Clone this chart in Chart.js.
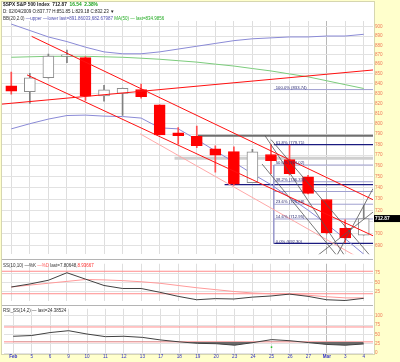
<!DOCTYPE html>
<html>
<head>
<meta charset="utf-8">
<title>$SPX S&P 500 Index</title>
<script src="https://cdn.jsdelivr.net/npm/chart.js@4.4.1/dist/chart.umd.min.js"></script>
<style>
  body { margin:0; width:400px; height:362px; background:#ffffcc; position:relative; overflow:hidden; font-family:"Liberation Sans", Arial, sans-serif; }
  #frame { position:absolute; left:1px; top:1px; width:372px; height:352px; background:#fff; border:1px solid #d6d6b0; }
  canvas { position:absolute; left:0; }
  .sep { position:absolute; left:2px; width:371px; height:0; border-top:1px solid #b4b4b4; }
  .t { position:absolute; white-space:nowrap; font-size:4.5px; line-height:5px; color:#333; }
</style>
</head>
<body>
<div id="frame"></div>
<canvas id="price" width="400" height="259" style="top:0"></canvas>
<canvas id="ss" width="400" height="47" style="top:259px"></canvas>
<canvas id="rsi" width="400" height="58" style="top:304px"></canvas>
<div class="sep" style="top:259px"></div>
<div class="sep" style="top:305px"></div>

<div class="t" style="left:3px;top:2px;font-size:4.8px;font-weight:bold;color:#222">$SPX S&amp;P 500 Index&nbsp;&nbsp;712.87&nbsp;&nbsp;<span style="color:#18a018">16.54&nbsp;&nbsp;2.38%</span></div>
<div class="t" style="left:3px;top:9px;color:#222">D: 02/04/2009 O:837.77 H:851.85 L:829.18 C:832.23 ▼</div>
<div class="t" style="left:3px;top:15.5px">BB(20,2.0) <span style="color:#5050b0">—upper —lower last=891.86033,682.67987</span> <span style="color:#22aa22">MA(50) — last=834.9856</span></div>
<div class="t" style="left:3px;top:262.5px">SS(10,10) —%K <span style="color:#ff6060">—%D</span> last=7.80648,<span style="color:#ff3030">8.93667</span></div>
<div class="t" style="left:3px;top:307.5px">RSI_SS(14,2) — last=24.38524</div>

<script>
// trading days, Feb 4 .. Mar 4 2009
const days = ['Feb','5','6','9','10','11','12','13','17','18','19','20','23','24','25','26','27','Mar','3','4'];

const opens  = [837.77, 831.75, 846.09, 868.24, 866.87, 827.41, 829.91, 833.95, 818.61, 791.06, 787.91, 775.87, 773.25, 744.69, 770.64, 765.76, 749.93, 729.57, 704.44, 698.60];
const highs  = [851.85, 850.55, 870.75, 875.01, 868.05, 838.22, 835.48, 839.43, 818.61, 796.17, 797.58, 778.69, 777.85, 775.49, 780.12, 779.42, 751.27, 729.57, 711.67, 724.12];
const lows   = [829.18, 819.91, 845.42, 861.65, 822.99, 822.30, 808.06, 825.21, 789.17, 780.43, 777.03, 754.25, 742.37, 744.69, 752.89, 751.75, 734.52, 699.70, 692.30, 698.60];
const closes = [832.23, 845.85, 868.60, 869.89, 827.16, 833.74, 835.19, 826.84, 789.17, 788.42, 778.94, 770.05, 743.33, 773.14, 764.90, 752.83, 735.09, 700.82, 696.33, 712.87];
const prevClose = 838.51;

const bbUpper = [903, 896, 889, 884, 878, 873, 871, 871, 873, 876, 879, 882, 885, 887, 888, 889, 889, 890, 890, 891.86];
const bbLower = [795, 800, 804.5, 808, 808.4, 807.4, 807, 805.5, 796, 795, 784.7, 774, 763.5, 752.7, 742.9, 731.4, 720.2, 708.1, 695.6, 682.68];
const ma50    = [867.3, 867.8, 868.3, 868.3, 868.3, 867.8, 867.3, 866.3, 865.2, 863.7, 862.2, 860.1, 858.1, 855.5, 853.0, 849.9, 846.9, 842.9, 838.9, 834.99];

const priceTicks = [690, 700, 710, 720, 730, 740, 750, 760, 770, 780, 790, 800, 810, 820, 830, 840, 850, 860, 870, 880, 890, 900];

// drawn lines: [dayIndex0, price0, dayIndex1, price1]
const redLines  = [[-0.61, 819.1, 19.5, 854.0], [1.1, 889.6, 19.5, 729.4], [0.85, 848.9, 19.5, 698.1]];
const pinkLines = [[6.94, 790.3, 19.5, 673.0]];
const grayLines = [[13.68, 788.4, 19.5, 646.9], [14.0, 784.7, 19.5, 678.6], [13.52, 761.7, 19.5, 645.9],
                   [17.39, 677.0, 19.5, 739.3], [16.13, 677.0, 19.5, 718.5]];
const supportLine = [10.06, 788.4];
const bandLine = [8.8, 767.1];

// retracement levels
const fibStart = 14.15;
const fibNavy = [780.0, 742.9, 691.6];
const fibLight = [833.9, 760.8, 745.5, 736.7, 725.4, 712.5];
const fibLabelValues = [833.9, 780.0, 760.8, 745.5, 725.4, 712.5, 691.6];
const fibLabels = ['100.0% (833.74)', '61.8% (779.71)', '50.0% (763.02)', '38.2% (746.33)', '23.6% (725.68)', '14.6% (712.95)', '0.0% (692.30)'];

const ssK = [38, 46, 56, 76, 59, 42, 34, 34, 24, 13, 4, 7, 6, 11, 14, 19, 13, 4, 2, 7.81];
const ssD = [38, 43, 48, 53, 58, 57, 55, 52, 48, 42, 36, 31, 26, 22, 20, 19, 16, 12, 9, 8.94];
const ssTicks = [25, 50, 75];

const rsi = [45, 47, 55, 60, 51, 44, 45, 42, 35, 30, 26, 25, 21, 28, 36, 33, 28, 23, 21, 24.39];
const rsiTicks = [0, 25, 50, 75, 100];
const rsiMark = [14, 16];

const tickColor = '#f07858';
const dayIdx = days.map((d, i) => i);
const xy = arr => arr.map((v, i) => ({ x: i, y: v }));

function seg(p, color, width, order) {
  return { type: 'line', data: [{x: p[0], y: p[1]}, {x: p[2], y: p[3]}],
    borderColor: color, borderWidth: width, pointRadius: 0, order: order || 1 };
}
function refLine(v, color) {
  return { type: 'line', data: [{x: -0.6, y: v}, {x: 19.6, y: v}],
    borderColor: color, borderWidth: 1, pointRadius: 0 };
}

const isDown = closes.map((c, i) => c < (i ? closes[i-1] : prevClose));
const filled = closes.map((c, i) => c < opens[i]);

// x axis shared by all panels: one unit per trading day
function dayAxis(showLabels) {
  return {
    type: 'linear', min: -0.5, max: 19.5, offset: false,
    afterBuildTicks: s => { s.ticks = dayIdx.map(v => ({ value: v })); },
    afterFit: s => { s.height = showLabels ? 9 : 0; },
    grid: { offset: false, drawTicks: false, color: ctx => ctx.index === 17 ? '#b8b8b8' : '#dedede' },
    border: { display: false },
    ticks: showLabels ? { autoSkip: false, maxRotation: 0, padding: 1, color: '#3030c8',
      callback: v => days[v],
      font: ctx => ({ size: 4.6, weight: (ctx.index === 0 || ctx.index === 17) ? 'bold' : 'normal' }) }
      : { display: false }
  };
}
function valueAxis(extra, ticks) {
  return Object.assign({
    position: 'right',
    afterBuildTicks: s => { s.ticks = ticks.map(v => ({ value: v })); },
    afterFit: s => { s.width = 27; },
    ticks: { color: tickColor, font: { size: 4.6 }, padding: 2 },
    grid: { color: '#e2e2e2', drawTicks: false }, border: { display: false }
  }, extra);
}

const priceBox = {
  id: 'priceBox',
  afterDatasetsDraw(chart) {
    const {ctx, chartArea, scales} = chart;
    ctx.save();
    ctx.font = '4.2px "Liberation Sans"';
    ctx.fillStyle = '#2a2a70';
    ctx.textBaseline = 'bottom';
    const fx = scales.x.getPixelForValue(fibStart) + 2;
    fibLabelValues.forEach((v, k) => ctx.fillText(fibLabels[k], fx, scales.y.getPixelForValue(v)));
    const last = closes[closes.length - 1];
    const y = scales.y.getPixelForValue(last);
    ctx.fillStyle = '#000';
    ctx.fillRect(chartArea.right + 1, y - 3.5, 27, 7);
    ctx.fillStyle = '#fff';
    ctx.font = 'bold 4.8px "Liberation Sans"';
    ctx.textBaseline = 'middle';
    ctx.fillText(last.toFixed(2), chartArea.right + 2, y + 0.3);
    ctx.restore();
  }
};

const datasets = [
  { type: 'bar', data: lows.map((l, i) => ({ x: i, y: [l, highs[i]] })), grouped: false, barThickness: 1,
    backgroundColor: isDown.map(d => d ? '#ff5050' : '#808080'), order: 6 },
  { type: 'bar', data: opens.map((o, i) => ({ x: i, y: [o, closes[i]] })), grouped: false, barThickness: 11,
    backgroundColor: filled.map((f, i) => f ? (isDown[i] ? '#ff0000' : '#000') : '#fff'),
    borderColor: isDown.map(d => d ? '#ff0000' : '#8c8c8c'), borderWidth: 1, borderSkipped: false, order: 5 },
  { type: 'line', data: xy(bbUpper), borderColor: '#8a8ad6', borderWidth: 1, pointRadius: 0, order: 7 },
  { type: 'line', data: xy(bbLower), borderColor: '#8a8ad6', borderWidth: 1, pointRadius: 0, order: 7 },
  { type: 'line', data: xy(ma50), borderColor: '#7ccc7c', borderWidth: 1, pointRadius: 0, order: 7 },
  seg([supportLine[0], supportLine[1], 19.6, supportLine[1]], '#6e6e6e', 2, 8),
  seg([bandLine[0], bandLine[1], 19.6, bandLine[1]], '#cfcfcf', 3, 9),
  seg([fibStart, fibLight[1], fibStart, fibNavy[2]], '#9a9acc', 1, 8),
  ...fibNavy.map((v, k) => seg([k === 1 ? 11.5 : fibStart, v, 19.6, v], '#1a1a80', 1.3, 8)),
  ...fibLight.map(v => seg([fibStart, v, 19.6, v], '#a0a0d0', 1, 8)),
  ...redLines.map(p => seg(p, '#ff1010', 1, 2)),
  ...pinkLines.map(p => seg(p, '#ffa8a8', 1, 3)),
  ...grayLines.map(p => seg(p, '#555', 0.8, 2))
];

new Chart(document.getElementById('price'), {
  type: 'bar',
  data: { datasets: datasets },
  options: {
    responsive: false, animation: false,
    layout: { padding: { left: 2, top: 21, right: 0, bottom: 0 } },
    plugins: { legend: { display: false }, tooltip: { enabled: false } },
    scales: {
      x: dayAxis(false),
      y: valueAxis({ type: 'logarithmic', min: 682.6, max: 906.4,
        ticks: { callback: v => v === 710 ? '' : String(v), color: tickColor, font: { size: 4.6 }, padding: 2 } }, priceTicks)
    }
  },
  plugins: [priceBox]
});

new Chart(document.getElementById('ss'), {
  type: 'line',
  data: { datasets: [
    { data: xy(ssK), borderColor: '#404040', borderWidth: 1, pointRadius: 0 },
    { data: xy(ssD), borderColor: '#ff9a9a', borderWidth: 1, pointRadius: 0 },
    refLine(80, '#ff8c8c'), refLine(20, '#ff8c8c')
  ] },
  options: {
    responsive: false, animation: false,
    layout: { padding: { left: 2, top: 2.7, right: 0, bottom: 0.3 } },
    plugins: { legend: { display: false }, tooltip: { enabled: false } },
    scales: { x: dayAxis(false), y: valueAxis({ min: 0, max: 100 }, ssTicks) }
  }
});

new Chart(document.getElementById('rsi'), {
  type: 'line',
  data: { datasets: [
    { data: xy(rsi), borderColor: '#404040', borderWidth: 1, pointRadius: 0,
      fill: { target: { value: 30 }, above: 'rgba(0,0,0,0)', below: '#6a6a6a' } },
    refLine(70, '#ff8c8c'), refLine(30, '#ff8c8c'),
    { data: [{ x: rsiMark[0], y: rsiMark[1] }], showLine: false,
      pointRadius: 0.9, pointBackgroundColor: '#20c020', pointBorderWidth: 0 }
  ] },
  options: {
    responsive: false, animation: false,
    layout: { padding: { left: 2, top: 2, right: 0, bottom: 0 } },
    plugins: { legend: { display: false }, tooltip: { enabled: false } },
    scales: { x: dayAxis(true), y: valueAxis({ min: 0, max: 119 }, rsiTicks) }
  }
});
</script>
</body>
</html>
